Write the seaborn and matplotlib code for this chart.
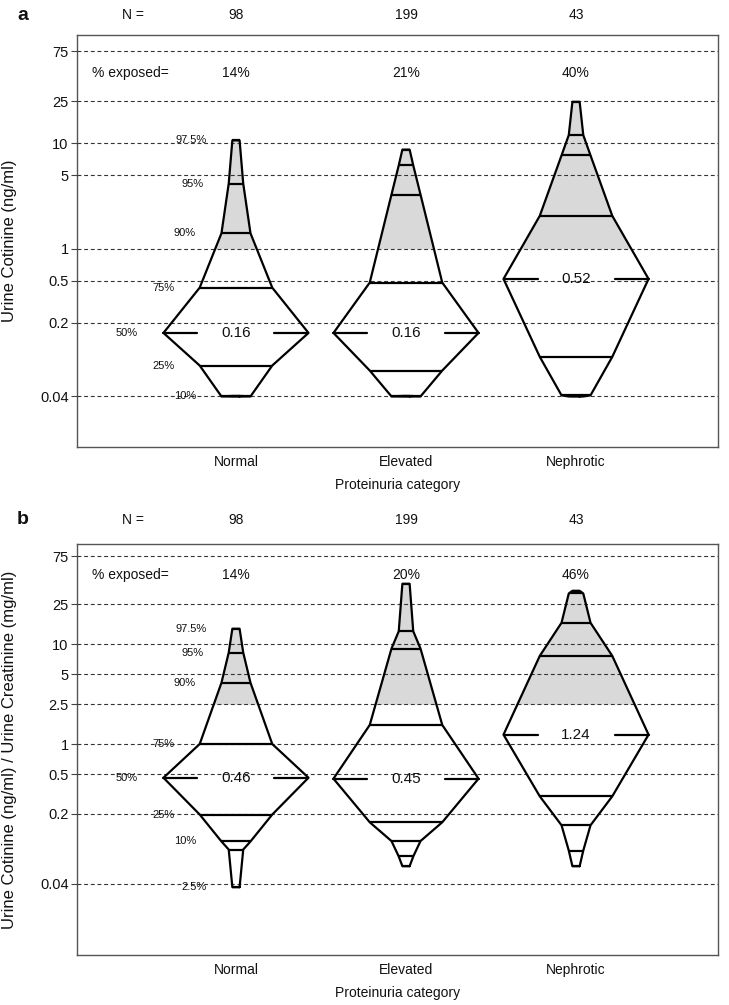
import numpy as np
import matplotlib
matplotlib.use("Agg")
import matplotlib.pyplot as plt
import matplotlib.transforms as mtransforms
from matplotlib.ticker import NullLocator
import seaborn as sns

# ---------------- data ----------------
categories = ["Normal", "Elevated", "Nephrotic"]
n_counts = [98, 199, 43]
pct_levels = [2.5, 5, 10, 25, 50, 75, 90, 95, 97.5]

# panel a: urine cotinine (ng/ml), values at pct_levels
cot_normal = [0.04, 0.04, 0.04, 0.0785, 0.16, 0.43, 1.41, 4.17, 10.7]
cot_elevated = [0.04, 0.04, 0.04, 0.0704, 0.16, 0.48, 3.28, 6.2, 8.74]
cot_nephrotic = [0.04, 0.04, 0.041, 0.095, 0.52, 2.06, 7.7, 12.0, 24.8]
exposed_a = ["14%", "21%", "40%"]
threshold_a = 1.0
yticks_a = [0.04, 0.2, 0.5, 1, 5, 10, 25, 75]
labelled_pcts_a = [10, 25, 50, 75, 90, 95, 97.5]

# panel b: cotinine / creatinine ratio
ratio_normal = [0.037, 0.088, 0.106, 0.197, 0.46, 1.0, 4.1, 8.2, 14.2]
ratio_elevated = [0.060, 0.075, 0.107, 0.165, 0.45, 1.55, 9.0, 13.4, 40.0]
ratio_nephrotic = [0.060, 0.086, 0.154, 0.30, 1.24, 7.6, 16.3, 32.0, 34.0]
exposed_b = ["14%", "20%", "46%"]
threshold_b = 2.5
yticks_b = [0.04, 0.2, 0.5, 1, 2.5, 5, 10, 25, 75]
labelled_pcts_b = [2.5, 10, 25, 50, 75, 90, 95, 97.5]

# ---------------- style ----------------
sns.set_theme(style="white")
plt.rcParams["font.family"] = ["Liberation Sans", "DejaVu Sans"]

W = 0.853          # half-width scale: h = min(p, 1-p) * W
MED_SEG = 0.2      # length of median stubs
GRAY = "#d9d9d9"
LW = 1.6

fig = plt.figure(figsize=(7.29, 10.05), dpi=100)
ax_a = fig.add_axes([77 / 729, 1 - 447 / 1005, 641 / 729, 412 / 1005])
ax_b = fig.add_axes([77 / 729, 1 - 955 / 1005, 641 / 729, 411 / 1005])


def draw_shape(ax, i, vals, thr):
    p = np.array(pct_levels) / 100.0
    h = np.minimum(p, 1 - p) * W
    v = np.array(vals, dtype=float)
    xs = np.concatenate([i + h, (i - h)[::-1], [i + h[0]]])
    ys = np.concatenate([v, v[::-1], [v[0]]])
    ax.fill(xs[:-1], ys[:-1], color="white", lw=0, zorder=2)
    above = v[v > thr]
    if len(above):
        yy = np.concatenate([[thr], above])
        hh = np.interp(np.log10(yy), np.log10(v), h)
        ax.fill_betweenx(yy, i - hh, i + hh, color=GRAY, lw=0, zorder=2.1)
    sns.lineplot(x=xs, y=ys, sort=False, estimator=None, ax=ax,
                 color="black", lw=LW, zorder=4)
    for pk, hk, vk in zip(p, h, v):
        if abs(pk - 0.5) < 1e-9:
            ax.plot([i - hk, i - hk + MED_SEG], [vk, vk], color="black", lw=LW, zorder=4)
            ax.plot([i + hk - MED_SEG, i + hk], [vk, vk], color="black", lw=LW, zorder=4)
            ax.text(i, vk, f"{vk:.2f}", ha="center", va="center", fontsize=11,
                    color="#111111", zorder=5)
        else:
            ax.plot([i - hk, i + hk], [vk, vk], color="black", lw=LW, zorder=4,
                    solid_capstyle="butt")


def setup_panel(ax, series, thr, yticks, exposed, labelled, ylabel, ylims,
                n_y, exp_y, letter, letter_y):
    for i, vals in enumerate(series):
        draw_shape(ax, i, vals, thr)
    ax.set_yscale("log")
    ax.set_ylim(*ylims)
    ax.set_xlim(-0.935, 2.835)
    ax.set_yticks(yticks)
    ax.set_yticklabels([f"{t:g}" for t in yticks])
    ax.yaxis.set_minor_locator(NullLocator())
    for t in yticks:
        ax.axhline(t, color="#333333", lw=0.8, ls=(0, (3.5, 2.5)), zorder=3)
    ax.set_xticks(range(len(categories)))
    ax.set_xticklabels(categories)
    ax.tick_params(axis="x", length=0, pad=6, labelsize=10, labelcolor="#111111")
    ax.tick_params(axis="y", length=4, width=0.8, color="#444444", pad=2,
                   labelsize=10.5, labelcolor="#111111", left=True)
    ax.set_xlabel("Proteinuria category", fontsize=10, color="#111111", labelpad=6)
    ax.set_ylabel(ylabel, fontsize=12, color="#111111")
    ax.yaxis.set_label_coords(-0.094, 0.5)
    for s in ax.spines.values():
        s.set_color("#555555")
        s.set_linewidth(1.0)
    trans = mtransforms.blended_transform_factory(ax.transData, ax.transAxes)
    ax.text(-0.606, n_y, "N =", transform=trans, ha="center", va="center",
            fontsize=10, color="#111111", clip_on=False)
    ax.text(-0.624, exp_y, "% exposed=", transform=trans, ha="center", va="center",
            fontsize=10, color="#111111")
    for i, (n, e) in enumerate(zip(n_counts, exposed)):
        ax.text(i, n_y, str(n), transform=trans, ha="center", va="center",
                fontsize=10, color="#111111", clip_on=False)
        ax.text(i, exp_y, e, transform=trans, ha="center", va="center",
                fontsize=10, color="#111111")
    # percentile labels next to the first category
    p = np.array(pct_levels)
    vals0 = series[0]
    for pl in labelled:
        k = int(np.where(np.isclose(p, pl))[0][0])
        hk = min(pl / 100, 1 - pl / 100) * W
        ax.text(-hk - 0.15, vals0[k], f"{pl:g}%", ha="right", va="center",
                fontsize=8, color="#111111", zorder=5)
    fig.text(17 / 729, 1 - letter_y / 1005, letter, fontsize=14, fontweight="bold",
             ha="left", va="center", color="#111111")


setup_panel(ax_a, [cot_normal, cot_elevated, cot_nephrotic], threshold_a, yticks_a,
            exposed_a, labelled_pcts_a, "Urine Cotinine (ng/ml)",
            (10 ** (-1.877), 10 ** 2.028), 1.049, 0.908, "a", 15)
setup_panel(ax_b, [ratio_normal, ratio_elevated, ratio_nephrotic], threshold_b, yticks_b,
            exposed_b, labelled_pcts_b,
            "Urine Cotinine (ng/ml) / Urine Creatinine (mg/ml)",
            (10 ** (-2.11), 10 ** 2.0), 1.058, 0.925, "b", 520)

fig.savefig("out.png", dpi=100, facecolor="white")
